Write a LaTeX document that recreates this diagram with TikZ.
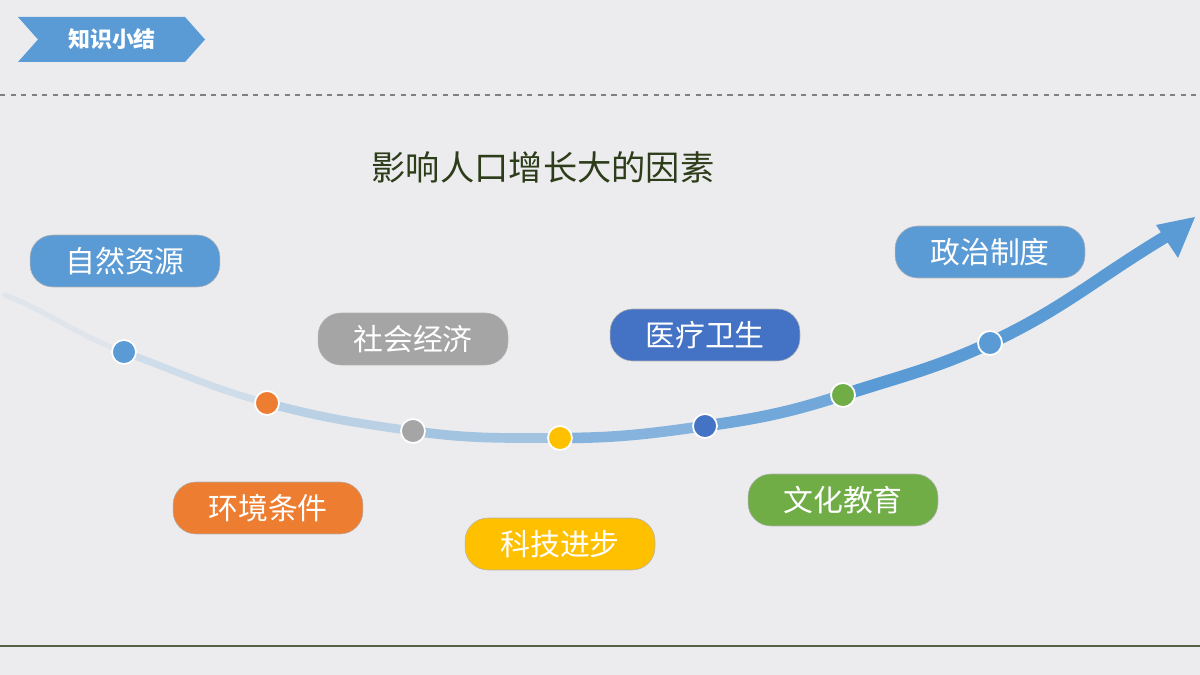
\documentclass[tikz,border=0pt]{standalone}
\usepackage{fontspec}
\newfontfamily\cjk{Noto Sans CJK SC}
\usetikzlibrary{positioning,calc}
\definecolor{bgc}{RGB}{236,236,238}
\definecolor{cblue}{RGB}{91,155,213}
\definecolor{corange}{RGB}{237,125,49}
\definecolor{cgray}{RGB}{165,165,165}
\definecolor{cgold}{RGB}{255,192,0}
\definecolor{cdblue}{RGB}{68,114,196}
\definecolor{cgreen}{RGB}{112,173,71}
\definecolor{ctitle}{RGB}{45,60,25}
\tikzstyle{pill} = [rounded corners=13pt, minimum width=3.8cm, minimum height=1.04cm, text=white, font=\cjk\fontsize{17}{17}\selectfont, draw=white!70!black, line width=0.3pt]
\tikzstyle{dot} = [circle, draw=white, line width=1pt, minimum size=0.48cm, inner sep=0pt]
\tikzstyle{seg} = [line cap=round]
\begin{document}
\begin{tikzpicture}[x=0.02cm, y=-0.02cm]
		\fill[bgc] (0,0) rectangle (1200,675);
		\useasboundingbox (0,0) rectangle (1200,675);
		% banner
		\fill[cblue] (18,17) -- (185,17) -- (205,39.5) -- (185,62) -- (18,62) -- (38,39.5) -- cycle;
		\node (tag) at (112,39.5) [text=white, font=\cjk\bfseries\fontsize{12.5}{12.5}\selectfont]{知识小结};
		\draw[gray, dashed, line width=0.6pt] (0,95) -- (1200,95);
		\draw[ctitle!80, line width=0.6pt] (0,646) -- (1200,646);
		\node (title) at (543,167) [text=ctitle, font=\cjk\fontsize{19.5}{19.5}\selectfont]{影响人口增长大的因素};
		% curve
		\coordinate (c0) at (5,295);
		\coordinate (tip) at (1195,217);
		\coordinate (d1) at (124,352);
		\coordinate (d2) at (267,403);
		\coordinate (d3) at (413,431);
		\coordinate (d4) at (560,438);
		\coordinate (d5) at (705,426);
		\coordinate (d6) at (843,395);
		\coordinate (d7) at (990,343);
		\draw[seg, cblue!8!bgc, line width=3pt] (c0) to[out=-22,in=160] (d1);
		\draw[seg, cblue!20!bgc, line width=4pt] (d1) to[out=-20,in=165] (d2);
		\draw[seg, cblue!35!bgc, line width=5pt] (d2) to[out=-15,in=172] (d3);
		\draw[seg, cblue!50!bgc, line width=5.5pt] (d3) to[out=-8,in=180] (d4);
		\draw[seg, cblue!70!bgc, line width=6pt] (d4) to[out=0,in=188] (d5);
		\draw[seg, cblue!85!bgc, line width=6.5pt] (d5) to[out=8,in=198] (d6);
		\draw[seg, cblue, line width=7pt] (d6) to[out=18,in=205] (d7);
		\draw[seg, cblue, line width=7pt] (d7) to[out=25,in=211] (1165,237);
		\fill[cblue] (tip) -- (1156,225) -- (1178,258) -- cycle;
		\foreach \n/\c in {d1/cblue,d2/corange,d3/cgray,d4/cgold,d5/cdblue,d6/cgreen,d7/cblue}
			\node (p\n) at (\n) [dot,fill=\c]{};
		% labels
		\node (l1) at (125,261) [pill,fill=cblue]{自然资源};
		\node (l2) at (268,508) [pill,fill=corange]{环境条件};
		\node (l3) at (413,339) [pill,fill=cgray]{社会经济};
		\node (l4) at (560,544) [pill,fill=cgold]{科技进步};
		\node (l5) at (705,335) [pill,fill=cdblue]{医疗卫生};
		\node (l6) at (843,500) [pill,fill=cgreen]{文化教育};
		\node (l7) at (990,252) [pill,fill=cblue]{政治制度};
\end{tikzpicture}
\end{document}
